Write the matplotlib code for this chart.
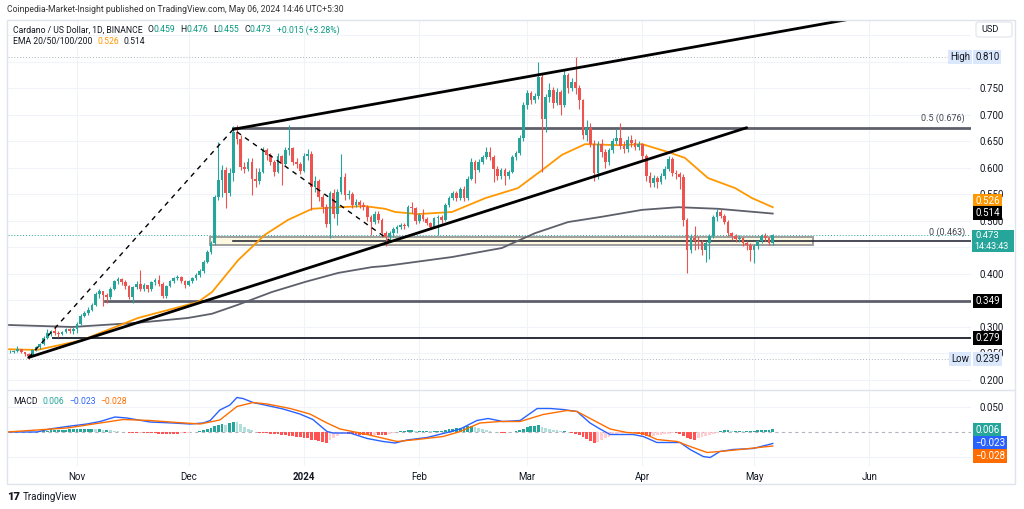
import numpy as np
import pandas as pd
import matplotlib
matplotlib.use("Agg")
import matplotlib.pyplot as plt
from matplotlib.patches import Rectangle, FancyBboxPatch
import matplotlib.transforms as mtransforms

plt.rcParams['font.family'] = ['Roboto', 'DejaVu Sans']

# ---------------- data (ADA/USD, 1D) ----------------
start_date = "2023-10-14"
base_date = "2023-11-01"          # day offsets below are counted from here
first_open = 0.252

closes_oct = [.253, .255, .258, .252, .249, .246, .257, .262, .268, .280, .288, .292, .289, .286, .291, .296, .293, .296]
highs_oct = [.256, .257, .264, .259, .253, .251, .259, .265, .270, .283, .296, .295, .304, .293, .293, .299, .299, .300]
lows_oct = [.250, .251, .252, .250, .245, .239, .245, .255, .259, .266, .278, .283, .284, .282, .284, .288, .288, .287]

closes_nov = [.305, .320, .327, .332, .341, .362, .367, .360, .356, .372, .386, .390, .384, .378, .357,
              .375, .381, .372, .379, .371, .384, .388, .382, .358, .377, .386, .392, .395, .387, .380]
highs_nov = [.309, .325, .331, .337, .345, .366, .372, .368, .364, .375, .389, .394, .392, .388, .380,
             .378, .386, .408, .383, .380, .387, .392, .398, .384, .380, .389, .395, .398, .396, .388]
lows_nov = [.289, .303, .318, .323, .330, .340, .355, .340, .345, .352, .370, .382, .380, .372, .353,
            .345, .372, .368, .368, .366, .368, .380, .378, .355, .355, .375, .383, .388, .383, .374]

closes_dec = [.386, .392, .398, .405, .423, .442, .458, .545, .577, .596, .552, .590, .668, .655, .602, .598,
              .612, .580, .575, .593, .634, .624, .612, .593, .622, .608, .634, .637, .612, .608, .595]
highs_dec = [.389, .395, .401, .410, .427, .446, .463, .549, .649, .605, .602, .600, .680, .681, .662, .612,
             .618, .618, .600, .600, .640, .638, .628, .615, .628, .625, .640, .681, .640, .618, .612]
lows_dec = [.377, .383, .389, .395, .402, .420, .438, .455, .540, .545, .524, .548, .575, .645, .596, .590,
            .595, .549, .565, .570, .590, .615, .605, .585, .590, .567, .605, .625, .606, .600, .588]

closes_jan = [.623, .627, .565, .575, .545, .527, .495, .552, .514, .555, .583, .549, .551, .530, .536, .530,
              .527, .508, .499, .514, .502, .477, .470, .478, .484, .489, .492, .490, .526, .524, .500]
highs_jan = [.628, .635, .632, .585, .580, .550, .532, .556, .560, .560, .626, .590, .558, .555, .542, .540,
             .536, .530, .512, .518, .518, .505, .482, .482, .488, .493, .496, .497, .530, .535, .527]
lows_jan = [.592, .615, .520, .555, .538, .515, .488, .467, .505, .492, .550, .540, .542, .525, .526, .524,
            .520, .500, .474, .495, .496, .470, .452, .462, .470, .478, .485, .484, .488, .515, .494]

closes_feb = [.511, .504, .496, .488, .505, .508, .502, .530, .543, .552, .543, .561, .543, .580, .612,
              .597, .612, .621, .630, .621, .599, .584, .596, .584, .593, .621, .628, .656, .719]
highs_feb = [.515, .523, .507, .499, .508, .512, .512, .533, .547, .556, .557, .565, .566, .584, .618,
             .615, .616, .625, .640, .640, .625, .603, .600, .600, .597, .625, .632, .662, .725]
lows_feb = [.497, .500, .492, .484, .486, .473, .497, .500, .527, .540, .538, .540, .538, .540, .577,
            .572, .593, .608, .617, .615, .574, .578, .580, .568, .580, .590, .615, .624, .650]

closes_mar = [.741, .728, .735, .772, .693, .734, .747, .722, .744, .719, .775, .750, .763, .750, .728, .662,
              .675, .645, .590, .645, .630, .612, .633, .650, .657, .642, .636, .653, .648, .640, .645]
highs_mar = [.748, .745, .742, .800, .778, .740, .760, .752, .750, .748, .785, .779, .770, .810, .756, .731,
             .690, .684, .652, .650, .655, .635, .638, .656, .673, .685, .650, .660, .662, .655, .650]
lows_mar = [.712, .720, .722, .730, .593, .668, .725, .713, .718, .700, .715, .742, .745, .740, .712, .655,
            .650, .640, .575, .580, .620, .600, .605, .628, .645, .636, .628, .630, .640, .634, .634]

closes_apr = [.622, .585, .572, .581, .573, .585, .599, .616, .590, .588, .583, .502, .445, .468, .462,
              .460, .445, .458, .471, .508, .517, .510, .499, .477, .471, .466, .468, .458, .455, .445]
highs_apr = [.648, .626, .592, .587, .585, .590, .603, .622, .620, .596, .592, .588, .505, .475, .490,
             .472, .465, .462, .475, .512, .522, .522, .513, .502, .480, .475, .473, .470, .462, .458]
lows_apr = [.615, .575, .565, .565, .563, .570, .580, .595, .585, .580, .560, .490, .401, .440, .445,
            .448, .436, .423, .428, .468, .500, .505, .494, .472, .465, .460, .460, .452, .446, .425]

closes_may = [.452, .462, .471, .468, .459, .473]
highs_may = [.456, .465, .475, .478, .470, .476]
lows_may = [.420, .448, .458, .462, .455, .455]

closes = closes_oct + closes_nov + closes_dec + closes_jan + closes_feb + closes_mar + closes_apr + closes_may
highs = highs_oct + highs_nov + highs_dec + highs_jan + highs_feb + highs_mar + highs_apr + highs_may
lows = lows_oct + lows_nov + lows_dec + lows_jan + lows_feb + lows_mar + lows_apr + lows_may
opens = [first_open] + closes[:-1]

# MACD histogram, one bar per candle
hist_oct = [0, 0, 0, 0, 0, 0, .0005, .001, .0015, .002, .003, .004, .004, .005, .005, .005, .006, .006]
hist_nov = [.006, .007, .007, .007, .007, .006, .006, .005, .005, .004, .003, .002, .001, 0, -.001,
            -.001, -.002, -.001, -.001, -.002, -.002, -.002, -.003, -.003, -.003, -.003, -.003, -.003, -.002, -.002]
hist_dec = [-.001, 0, .001, .002, .004, .006, .009, .013, .015, .016, .015, .018, .021, .020, .016, .011,
            .007, .004, .001, -.001, -.001, -.002, -.003, -.004, -.004, -.005, -.006, -.007, -.008, -.009, -.010]
hist_jan = [-.011, -.012, -.015, -.016, -.017, -.019, -.021, -.016, -.012, -.007, -.003, -.002, -.003, -.004,
            -.004, -.005, -.005, -.006, -.006, -.005, -.005, -.005, -.006, -.004, -.002, 0, .002, .003, .004, .004, .003]
hist_feb = [.003, .003, .003, .002, .002, .002, .003, .004, .006, .007, .008, .009, .011, .013, .013,
            .011, .009, .007, .005, .003, .001, 0, -.001, -.001, 0, .001, .002, .004, .007]
hist_mar = [.010, .012, .013, .015, .011, .009, .007, .005, .004, .002, .002, .001, -.001, -.003, -.006, -.010,
            -.014, -.018, -.022, -.019, -.015, -.012, -.009, -.006, -.004, -.002, -.001, 0, 0, -.001, -.003]
hist_apr = [-.005, -.007, -.009, -.008, -.006, -.005, -.004, -.003, -.002, -.002, -.004, -.008, -.012, -.014,
            -.015, -.012, -.010, -.008, -.006, -.003, -.001, .002, .004, .004, .003, .003, .003, .002, .002, .002]
hist_may = [.003, .004, .005, .005, .005, .006]
hist = hist_oct + hist_nov + hist_dec + hist_jan + hist_feb + hist_mar + hist_apr + hist_may

# EMA curves (day offset from base_date, price)
ema50_days = [-18.5, -12.6, -10.5, 1.3, 16.4, 32.5, 36.3, 43.3, 50.5, 56.7, 63.2, 70.2, 77.4, 82.8, 85.5,
              91.7, 100.8, 109.7, 118.5, 125, 130.4, 136.6, 145.4, 151.9, 158.9, 163.4, 169.6, 176.9, 181.5, 187]
ema50_vals = [.258, .257, .257, .275, .317, .347, .366, .426, .474, .502, .523, .526, .528, .523, .517,
              .513, .517, .543, .562, .596, .625, .645, .643, .645, .630, .619, .581, .562, .543, .526]
ema200_days = [-19.4, -1.3, 16.4, 29.8, 36.3, 43.3, 52.4, 61.3, 70.2, 79.3, 82.8, 100.8, 114.2, 123.1,
               132, 141.1, 151.9, 161.6, 172.3, 187]
ema200_vals = [.304, .300, .308, .317, .325, .342, .366, .385, .402, .413, .415, .432, .449, .477,
               .498, .508, .521, .526, .523, .514]

# MACD / signal lines
macd_days = [-18.8, -10.8, -7.3, -2.7, 2.7, 6.2, 10.2, 13.4, 19.6, 25.8, 30.4, 33.9, 35.8, 38.4, 41.1, 43,
             44.6, 47.3, 51.1, 55.4, 59.9, 63.4, 67.2, 68.8, 73.4, 78, 82.3, 85.5, 88.7, 94.1, 99.5, 103,
             107.5, 110.5, 114.5, 119.1, 123.7, 127.2, 130.6, 134.4, 137.9, 140.6, 143.3, 149.5, 152.2,
             155.9, 162.1, 164.8, 168.3, 170.2, 172.8, 176.3, 181.7, 185.5, 187]
macd_vals = [0, 0, .006, .011, .016, .021, .030, .028, .020, .018, .016, .018, .023, .044, .054, .069,
             .067, .059, .053, .046, .036, .025, .001, -.002, -.002, -.013, -.019, -.022, -.016, -.011, -.001, .006,
             .023, .027, .021, .023, .047, .047, .045, .041, .018, .006, -.005, -.005, -.009,
             -.021, -.021, -.035, -.049, -.051, -.039, -.035, -.033, -.026, -.023]
signal_days = [-18.8, -2.7, 6.2, 12.4, 19.6, 26.9, 33.1, 38.4, 43, 47.3, 51.1, 57.3, 62.6, 67.2, 70.7, 78,
               86, 91.4, 98.4, 103, 108.3, 113.7, 119.1, 125.3, 131.7, 134.4, 138.7, 143.3, 147.8, 152.2,
               155.9, 161.3, 164.8, 169.4, 172.8, 178.2, 187]
signal_vals = [0, .008, .018, .025, .023, .019, .016, .024, .051, .059, .056, .047, .036, .018, .006, -.005,
               -.019, -.015, -.009, .001, .018, .021, .021, .035, .043, .041, .024, .006, -.001, -.003,
               -.015, -.019, -.029, -.041, -.039, -.035, -.028]

# drawn levels
level_high, level_low = 0.810, 0.239
fib_half, fib_zero = 0.676, 0.463
support_1, support_2 = 0.349, 0.279
last_price = 0.473

month_labels = ['Nov', 'Dec', '2024', 'Feb', 'Mar', 'Apr', 'May', 'Jun']
# price-scale ticks that are not hidden behind a tag
price_ticks = [0.20, 0.25, 0.30, 0.40, 0.50, 0.55, 0.60, 0.65, 0.70, 0.75]
macd_ticks = [0.05]

# ---------------- styling ----------------
UP, DOWN = '#26a69a', '#ef5350'
TXT = '#131722'
GRID = '#f0f3fa'
W, H = 1024, 509


def fx(px):
    return px / W


def fy(py):
    return 1 - py / H


base = pd.Timestamp(base_date)
dates = pd.date_range(start_date, periods=len(closes), freq='D')
xd = np.array((dates - base).days, dtype=float)
month_x = np.array((pd.date_range('2023-11-01', periods=8, freq='MS') - base).days, dtype=float)

fig = plt.figure(figsize=(W / 100, H / 100), dpi=100)
ax = fig.add_axes([fx(8), fy(390), fx(971 - 8), (390 - 20) / H])
mx = fig.add_axes([fx(8), fy(466), fx(971 - 8), (466 - 390) / H], sharex=ax)

x_lo, x_hi = -18.55, 240.3
ax.set_xlim(x_lo, x_hi)
ax.set_ylim(0.1811, 0.8792)
mx.set_ylim(-0.068, 0.084)

for a in (ax, mx):
    for s in a.spines.values():
        s.set_visible(False)
    a.set_xticks(month_x)
    a.xaxis.grid(True, color=GRID, lw=0.8, zorder=0)
    a.set_axisbelow(True)
    a.yaxis.tick_right()
    a.tick_params(length=0, labelsize=7, labelcolor=TXT, pad=6)

# horizontal grid at every 0.05 step (some labels hidden by tags)
for v in np.arange(0.2, 0.851, 0.05):
    ax.axhline(v, color=GRID, lw=0.8, zorder=0)
for v in (-0.05, 0.05):
    mx.axhline(v, color=GRID, lw=0.8, zorder=0)

ax.tick_params(axis='x', labelbottom=False)
ax.set_yticks(price_ticks)
ax.set_yticklabels(['%.3f' % v for v in price_ticks])
mx.set_yticks(macd_ticks)
mx.set_yticklabels(['%.3f' % v for v in macd_ticks])
mx.set_xticklabels(month_labels)
mx.tick_params(axis='x', pad=4, labelsize=7)
for t in mx.get_xticklabels():
    if t.get_text() == '2024':
        t.set_fontweight('bold')

# ---- price pane ----
ax.axhline(level_high, color='#b2b5be', lw=0.7, ls=(0, (1, 2)), zorder=1)
ax.axhline(level_low, color='#b2b5be', lw=0.7, ls=(0, (1, 2)), zorder=1)
ax.axhline(last_price, color=UP, lw=0.7, ls=(0, (1, 2)), zorder=1)

# fib retracement box and levels
ax.add_patch(Rectangle((35.75, 0.4547), 197.8 - 35.75, 0.4700 - 0.4547, fc='#fff8e1',
                       ec='#9e9e9e', lw=1.4, zorder=2))
ax.plot([42, x_hi], [fib_half, fib_half], color='#5d606b', lw=2, zorder=2)
ax.plot([42, x_hi], [fib_zero, fib_zero], color='#2a2e39', lw=1.2, zorder=3)
ax.text(x_hi - 1.6, fib_half + 0.008, '0.5 (0.676)', ha='right', va='bottom', fontsize=6.5, color='#434651')
ax.text(x_hi - 1.6, fib_zero + 0.007, '0 (0.463)', ha='right', va='bottom', fontsize=6.5, color='#434651')

# horizontal supports
ax.plot([7.5, x_hi], [support_1, support_1], color='#5d606b', lw=2, zorder=2)
ax.plot([-6.5, x_hi], [support_2, support_2], color='#2a2e39', lw=1.4, zorder=2)

# EMAs
ax.plot(ema200_days, ema200_vals, color='#5d606b', lw=1.3, zorder=3)
ax.plot(ema50_days, ema50_vals, color='#ff9800', lw=1.3, zorder=3)

# candles
o = np.array(opens)
c = np.array(closes)
hi = np.maximum(np.array(highs), np.maximum(o, c))
lo = np.minimum(np.array(lows), np.minimum(o, c))
cols = np.where(c >= o, UP, DOWN)
ax.vlines(xd, lo, hi, colors=cols, lw=0.8, zorder=4)
body = np.maximum(np.abs(c - o), 0.0015)
ax.bar(xd, body, bottom=np.minimum(o, c), width=0.72, color=cols, lw=0, zorder=5)

# channel / trend lines
ax.plot([-13, 180], [0.2425, fib_half], color='#000000', lw=2, zorder=6, solid_capstyle='round')
ax.plot([42, 215], [0.673, 0.673 + 0.001254 * 173], color='#000000', lw=2, zorder=6,
        solid_capstyle='round')
ax.plot([-13, 42, 84.5], [0.2425, 0.673, 0.461], color='#000000', lw=1, ls=(0, (3.5, 3.5)), zorder=6)

# ---- MACD pane ----
mx.axhline(0, color='#b2b5be', lw=0.8, ls=(0, (3, 3)), zorder=1)
hv = np.array(hist)
prev = np.concatenate([[0], hv[:-1]])
hcols = np.where(hv >= 0, np.where(hv >= prev, '#26a69a', '#b2dfdb'),
                 np.where(hv <= prev, '#ff5252', '#ffcdd2'))
mx.bar(xd, hv, width=0.75, color=hcols, lw=0, zorder=2)
mx.plot(macd_days, macd_vals, color='#2962ff', lw=1, zorder=3)
mx.plot(signal_days, signal_vals, color='#ff6d00', lw=1, zorder=3)

# ---- frame ----
fig.patches.append(Rectangle((fx(7), fy(484)), fx(1015 - 7), (484 - 20) / H, transform=fig.transFigure,
                             fill=False, ec='#e0e3eb', lw=1, zorder=1))
fig.lines.append(plt.Line2D([fx(7), fx(1015)], [fy(390), fy(390)], transform=fig.transFigure,
                            color='#e0e3eb', lw=1))

# ---- texts ----
renderer = fig.canvas.get_renderer()


def rich(x, y, parts, size=6.2):
    for s, col, gap in parts:
        t = fig.text(fx(x), fy(y), s, color=col, fontsize=size, va='center', ha='left')
        x += t.get_window_extent(renderer=renderer).width + gap


fig.text(fx(7), fy(10), 'Coinpedia-Market-Insight published on TradingView.com, May 06, 2024 14:46 UTC+5:30',
         fontsize=6.2, color='#333333', va='center')
GRN = '#089981'
rich(13, 30, [('Cardano / US Dollar, 1D, BINANCE', TXT, 5), ('O', TXT, 0), ('0.459', GRN, 5),
              ('H', TXT, 0), ('0.476', GRN, 5), ('L', TXT, 0), ('0.455', GRN, 5), ('C', TXT, 0),
              ('0.473', GRN, 5), ('+0.015 (+3.28%)', GRN, 0)])
rich(13, 42, [('EMA 20/50/100/200', TXT, 5), ('0.526', '#ff9800', 5), ('0.514', TXT, 0)])
rich(13, 402, [('MACD', TXT, 5), ('0.006', '#26a69a', 5), ('\u22120.023', '#2962ff', 5),
               ('\u22120.028', '#ff6d00', 0)])

# price scale tags
tf_price = mtransforms.blended_transform_factory(fig.transFigure, ax.transData)
tf_macd = mtransforms.blended_transform_factory(fig.transFigure, mx.transData)


def tag(yv, text, fc, tc='white', tf=tf_price, x=975):
    fig.text(fx(x), yv, text, transform=tf, fontsize=7, color=tc, va='center', ha='left',
             bbox=dict(boxstyle='square,pad=0.2', fc=fc, ec='none'), zorder=5)


tag(level_high, '0.810', '#dbe8fb', TXT)
fig.text(fx(950), level_high, 'High', transform=tf_price, fontsize=7, color=TXT, va='center', ha='left',
         bbox=dict(boxstyle='square,pad=0.2', fc='#dbe8fb', ec='none'), zorder=5)
tag(level_low, '0.239', '#dbe8fb', TXT)
fig.text(fx(951), level_low, 'Low', transform=tf_price, fontsize=7, color=TXT, va='center', ha='left',
         bbox=dict(boxstyle='square,pad=0.2', fc='#dbe8fb', ec='none'), zorder=5)
tag(0.5375, '0.526', '#ff9800')
tag(0.5150, '0.514', '#000000')
tag(support_1, '0.349', '#000000')
tag(support_2, '0.279', '#000000')
fig.patches.append(Rectangle((fx(972), fy(252)), fx(42), 22 / H, transform=fig.transFigure,
                             fc='#26a69a', ec='none', zorder=4))
fig.text(fx(975), fy(236), '0.473', fontsize=6.8, color='white', va='center', zorder=5)
fig.text(fx(974), fy(246.5), '14:43:43', fontsize=6.5, color='white', va='center', zorder=5)

tag(0.004, '0.006', '#26a69a', tf=tf_macd)
tag(-0.0225, '\u22120.023', '#2962ff', tf=tf_macd)
tag(-0.0485, '\u22120.028', '#ff6d00', tf=tf_macd)

# USD button
fig.patches.append(FancyBboxPatch((fx(976), fy(37)), fx(36), 15 / H, boxstyle='round,pad=0,rounding_size=0.004',
                                  transform=fig.transFigure, fc='white', ec='#e0e3eb', lw=0.8, zorder=4))
fig.text(fx(981), fy(29.5), 'USD', fontsize=6.6, color=TXT, va='center', zorder=5)

# footer
fig.text(fx(7), fy(497), '17', fontsize=8, fontweight='heavy', color=TXT, va='center')
fig.text(fx(23), fy(497), 'TradingView', fontsize=7, color=TXT, va='center')

fig.savefig('out.png', dpi=100)
